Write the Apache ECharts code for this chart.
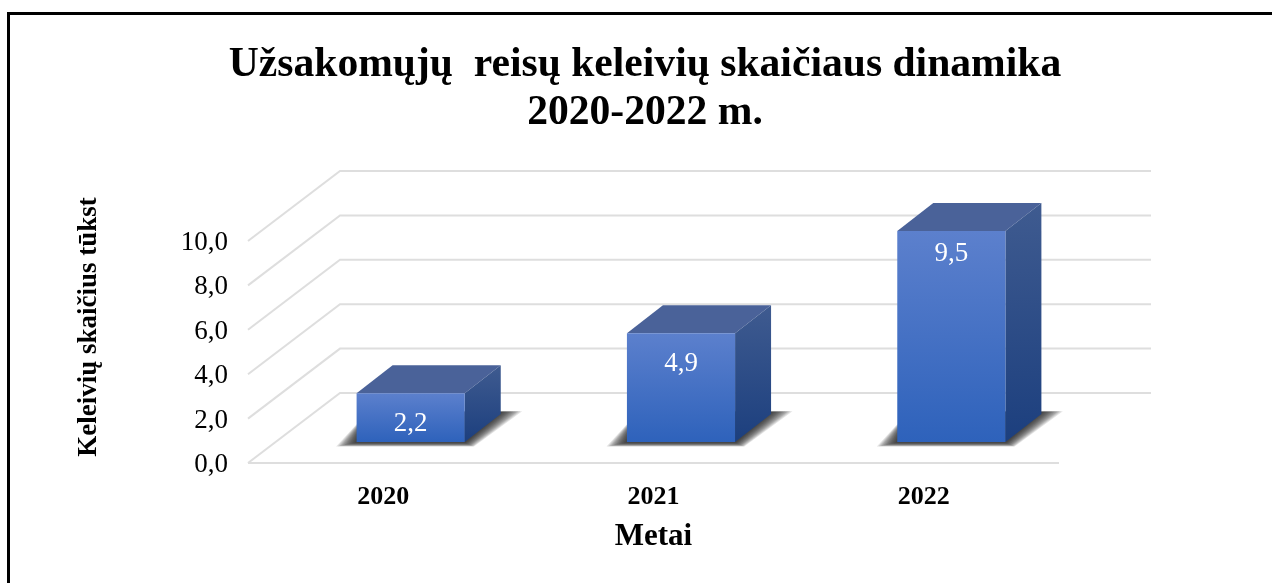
<!DOCTYPE html>
<html>
<head>
<meta charset="utf-8">
<style>html,body{margin:0;padding:0;background:#fff}#c{width:1272px;height:583px}</style>
<script src="https://cdn.jsdelivr.net/npm/echarts@6/dist/echarts.min.js"></script>
</head>
<body>
<div id="c"></div>
<script>
const categories = ['2020', '2021', '2022'];
const passengers = [2.2, 4.9, 9.5];
const valueTicks = [0, 2, 4, 6, 8, 10];
const titleText = 'Užsakomųjų  reisų keleivių skaičiaus dinamika\n2020-2022 m.';
const yAxisTitle = 'Keleivių skaičius tūkst';
const xAxisTitle = 'Metai';

const SERIF = '"Liberation Serif","Times New Roman",serif';
const WALL_DX = 92, WALL_DY = -70;      // depth of the floor
const BAR_SHIFT_X = 27.5, BAR_SHIFT_Y = -21; // bars stand inside the floor
const BAR_DX = 36, BAR_DY = -28;        // depth of a bar
const BAR_FRACTION = 0.4;
const LABEL_DROP = [31, 31, 23];
const GRID_COLOR = '#dedede';
const SHADOW_LAYERS = 12;

function vGrad(top, bottom) {
  return { type: 'linear', x: 0, y: 0, x2: 0, y2: 1, colorStops: [{ offset: 0, color: top }, { offset: 1, color: bottom }] };
}

function renderWall(params, api) {
  const v = api.value(1);
  const g = params.coordSys;
  const y = api.coord([0, v])[1];
  const x0 = g.x, x1 = g.x + g.width;
  const children = [{
    type: 'polyline',
    shape: { points: [[x0, y], [x0 + WALL_DX, y + WALL_DY], [x1 + WALL_DX, y + WALL_DY]] },
    style: { fill: null, stroke: GRID_COLOR, lineWidth: 2 }
  }];
  if (v === 0) {
    children.push({
      type: 'line', shape: { x1: x0, y1: y, x2: x1, y2: y },
      style: { stroke: GRID_COLOR, lineWidth: 2 }
    });
  }
  return { type: 'group', children };
}

function shadowLayers(xl, xr, yb) {
  const out = [];
  for (let k = SHADOW_LAYERS; k >= 1; k--) {
    const e = k * 1.7;
    out.push({
      type: 'polygon',
      shape: { points: [
        [xl - e, yb + 0.5 + e * 0.2],
        [xr + e * 0.45, yb + 0.5 + e * 0.2],
        [xr + BAR_DX + e * 1.05, yb - 30 - e * 0.04],
        [xl + 12, yb - 30 - e * 0.04]
      ] },
      style: { fill: 'rgba(25,25,25,0.12)' }
    });
  }
  return out;
}

function renderBar(params, api) {
  const i = api.value(0), v = api.value(1);
  const base = api.coord([i, 0]);
  const topPt = api.coord([i, v]);
  const w = api.size([1, 0])[0] * BAR_FRACTION;
  const xl = base[0] + BAR_SHIFT_X - w / 2, xr = xl + w;
  const yb = base[1] + BAR_SHIFT_Y, yt = topPt[1] + BAR_SHIFT_Y;
  return {
    type: 'group',
    children: shadowLayers(xl, xr, yb).concat([
      { type: 'polygon',
        shape: { points: [[xl, yt], [xr, yt], [xr + BAR_DX, yt + BAR_DY], [xl + BAR_DX, yt + BAR_DY]] },
        style: { fill: '#4a6299' } },
      { type: 'polygon',
        shape: { points: [[xr, yt], [xr + BAR_DX, yt + BAR_DY], [xr + BAR_DX, yb + BAR_DY], [xr, yb]] },
        style: { fill: vGrad('#3f5b90', '#1c3f7e') } },
      { type: 'rect',
        shape: { x: xl, y: yt, width: w, height: yb - yt },
        style: { fill: vGrad('#5c80cd', '#2e62bb') } },
      { type: 'text',
        style: { text: String(v).replace('.', ','), x: (xl + xr) / 2, y: yt + LABEL_DROP[i],
          fill: '#fff', font: '27px ' + SERIF, textAlign: 'center', textVerticalAlign: 'middle' } }
    ])
  };
}

const chart = echarts.init(document.getElementById('c'), null, { renderer: 'canvas' });
chart.setOption({
  animation: false,
  backgroundColor: '#fff',
  title: {
    text: titleText, left: 640, top: 36, textAlign: 'center',
    textStyle: { fontFamily: SERIF, fontWeight: 'bold', fontSize: 41.6, lineHeight: 48, color: '#000' }
  },
  grid: { left: 248, right: 213, top: 241, bottom: 120 },
  xAxis: {
    type: 'category', data: categories,
    axisLine: { show: false }, axisTick: { show: false },
    axisLabel: { fontFamily: SERIF, fontWeight: 'bold', fontSize: 26, color: '#000', margin: 21 },
    name: xAxisTitle, nameLocation: 'middle', nameGap: 58,
    nameTextStyle: { fontFamily: SERIF, fontWeight: 'bold', fontSize: 31, color: '#000' }
  },
  yAxis: {
    type: 'value', min: 0, max: 10, interval: 2,
    axisLine: { show: false }, axisTick: { show: false }, splitLine: { show: false },
    axisLabel: { margin: 20,
      formatter: v => '{t|' + v.toFixed(1).replace('.', ',') + '}',
      rich: { t: { fontFamily: SERIF, fontSize: 27, color: '#000', padding: [4, 0, 0, 0] } } },
    name: yAxisTitle, nameLocation: 'middle', nameGap: 145, nameRotate: 90,
    nameTextStyle: { fontFamily: SERIF, fontWeight: 'bold', fontSize: 27, color: '#000', padding: [0, 0, 0, 50] }
  },
  graphic: [{
    type: 'rect', silent: true, z: 100,
    shape: { x: 8.5, y: 13.5, width: 1300, height: 620 },
    style: { fill: null, stroke: '#000', lineWidth: 3 }
  }],
  series: [
    { type: 'custom', coordinateSystem: 'cartesian2d', renderItem: renderWall, z: 1, silent: true,
      data: valueTicks.map(t => [0, t]) },
    { type: 'custom', coordinateSystem: 'cartesian2d', renderItem: renderBar, z: 2, silent: true,
      data: passengers.map((v, i) => [i, v]) }
  ]
});
</script>
</body>
</html>
